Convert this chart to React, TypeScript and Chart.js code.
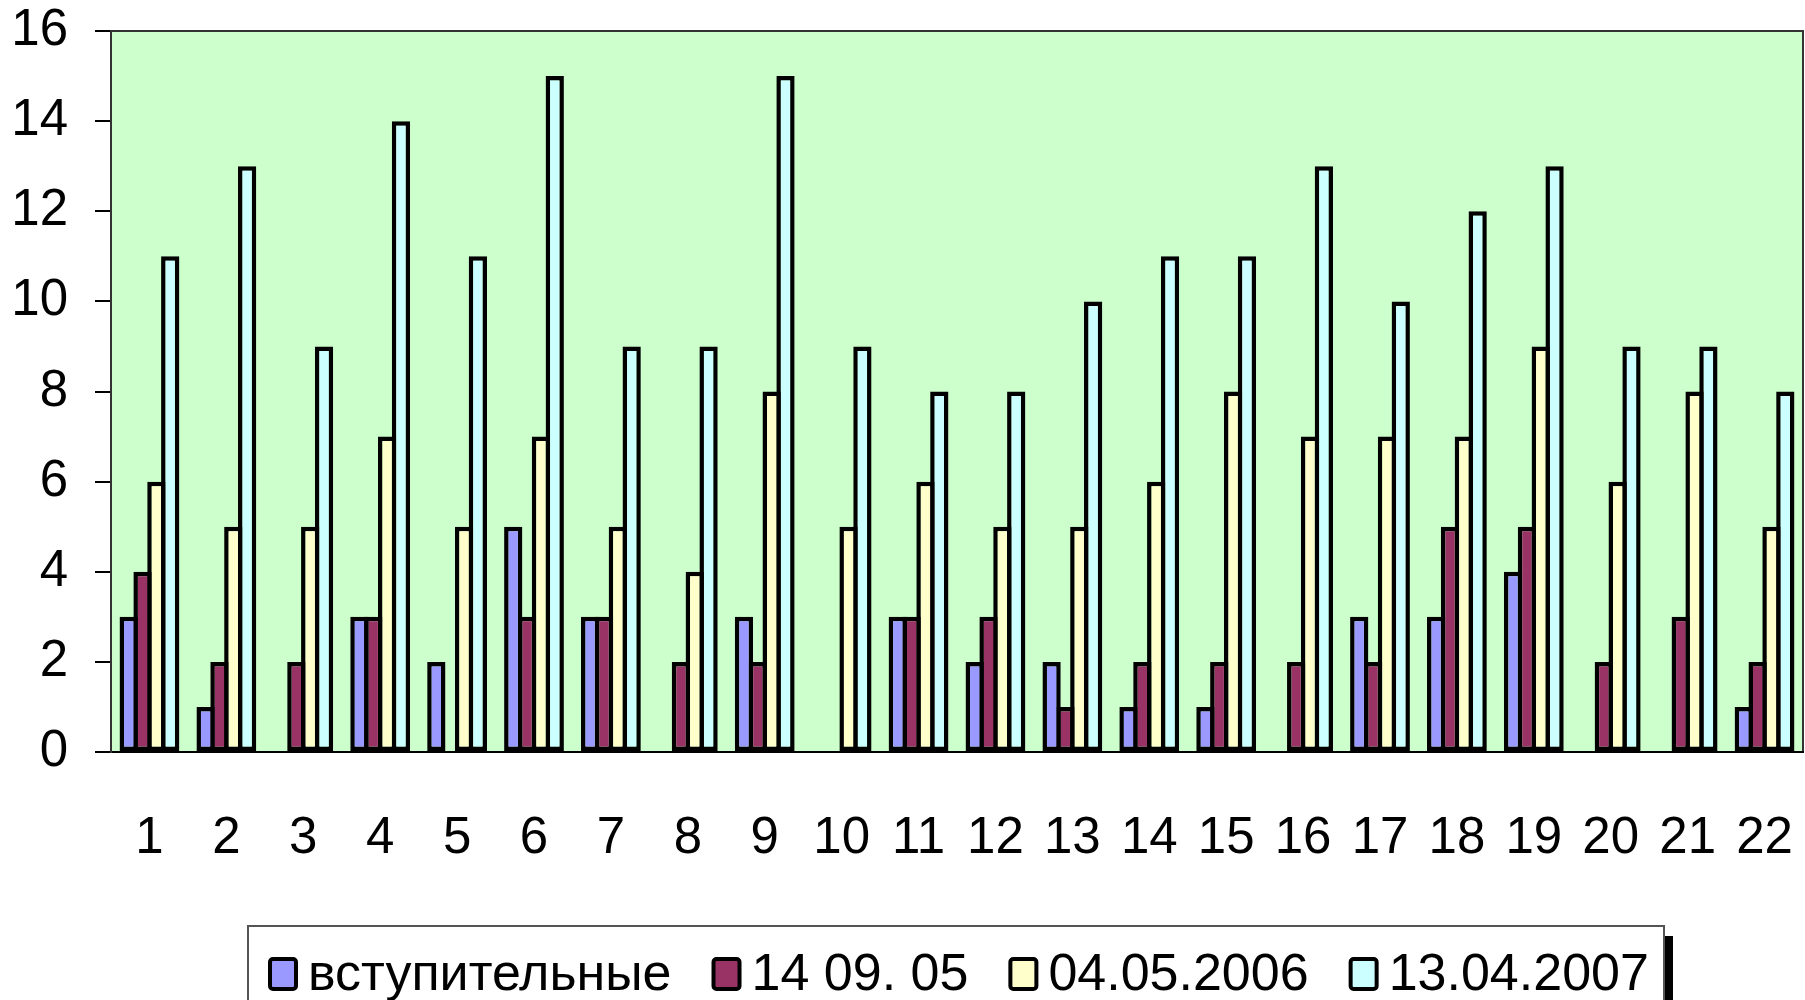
import React, { useEffect, useRef } from "react";
import { Chart, registerables } from "chart.js";

Chart.register(...registerables);

const categories = ["1","2","3","4","5","6","7","8","9","10","11","12","13","14","15","16","17","18","19","20","21","22"];
const seriesLabels = ["вступительные", "14 09. 05", "04.05.2006", "13.04.2007"];
const vstupitelnye = [3,1,0,3,2,5,3,0,3,0,3,2,2,1,1,0,3,3,4,0,0,1];
const s140905 = [4,2,2,3,0,3,3,2,2,0,3,3,1,2,2,2,2,5,5,2,3,2];
const s040506 = [6,5,5,7,5,7,5,4,8,5,6,5,5,6,8,7,7,7,9,6,8,5];
const s130407 = [11,13,9,14,11,15,9,9,15,9,8,8,10,11,11,13,10,12,13,9,9,8];
const yTicks = [0, 2, 4, 6, 8, 10, 12, 14, 16];
const colors = ["#9999FF", "#993366", "#FFFFCC", "#CCFFFF"];

const FONT = "'Liberation Sans', Arial, sans-serif";

const bgPlugin = {
  id: "bgPlugin",
  beforeDraw(chart: any) {
    const { ctx, chartArea: a } = chart;
    ctx.save();
    ctx.fillStyle = "#FFFFFF";
    ctx.fillRect(0, 0, chart.width, chart.height);
    ctx.fillStyle = "#CCFFCC";
    ctx.fillRect(a.left, a.top, a.right - a.left, a.bottom - a.top);
    ctx.strokeStyle = "#333333";
    ctx.lineWidth = 2;
    ctx.beginPath();
    ctx.moveTo(a.left, a.top);
    ctx.lineTo(a.right, a.top);
    ctx.lineTo(a.right, a.bottom);
    ctx.stroke();
    ctx.restore();
  },
};

const legendPlugin = {
  id: "customLegend",
  afterDraw(chart: any) {
    const ctx = chart.ctx;
    const boxL = 248, boxT = 926, boxR = 1664, boxB = 1030;
    ctx.save();
    ctx.fillStyle = "#000000";
    ctx.fillRect(boxR, boxT + 10, 9, boxB - boxT);
    ctx.fillStyle = "#FFFFFF";
    ctx.fillRect(boxL, boxT, boxR - boxL, boxB - boxT);
    ctx.strokeStyle = "#555555";
    ctx.lineWidth = 2;
    ctx.strokeRect(boxL, boxT, boxR - boxL, boxB - boxT);
    ctx.font = `52px ${FONT}`;
    ctx.textBaseline = "alphabetic";
    ctx.textAlign = "left";
    let x = 268;
    chart.data.datasets.forEach((ds: any) => {
      ctx.fillStyle = ds.backgroundColor;
      ctx.strokeStyle = "#000000";
      ctx.lineWidth = 4;
      ctx.beginPath();
      ctx.roundRect(x + 2, 959, 26, 30, 3);
      ctx.fill();
      ctx.stroke();
      ctx.fillStyle = "#000000";
      const tx = x + 40;
      ctx.fillText(ds.label, tx, 990);
      x = tx + ctx.measureText(ds.label).width + 40;
    });
    ctx.restore();
  },
};

const zeroPad = (s: any) => {
  s.paddingLeft = 0;
  s.paddingRight = 0;
  s.paddingTop = 0;
  s.paddingBottom = 0;
};

export default function App() {
  const ref = useRef<HTMLCanvasElement | null>(null);
  useEffect(() => {
    document.body.style.margin = "0";
    document.body.style.overflow = "hidden";
    const canvas = ref.current;
    if (!canvas) return;
    const data = [vstupitelnye, s140905, s040506, s130407];
    const chart = new Chart(canvas, {
      type: "bar",
      data: {
        labels: categories,
        datasets: data.map((d, i) => ({
          label: seriesLabels[i],
          data: d,
          backgroundColor: colors[i],
          borderColor: "#000000",
          borderWidth: 4.5,
          borderSkipped: false,
          barPercentage: 1.32,
          categoryPercentage: 0.72,
        })),
      },
      options: {
        responsive: false,
        animation: false,
        devicePixelRatio: 1,
        layout: { autoPadding: false, padding: { left: 0, top: 31, right: 2, bottom: 0 } },
        plugins: {
          legend: { display: false },
          tooltip: { enabled: false },
        },
        scales: {
          x: {
            afterFit: (s: any) => { s.height = 248; zeroPad(s); },
            grid: { display: false },
            border: { display: true, color: "#000000", width: 2 },
            ticks: {
              color: "#000000",
              font: { size: 51, family: FONT },
              padding: 48,
              maxRotation: 0,
              autoSkip: false,
            },
          },
          y: {
            min: 0,
            max: 16,
            afterFit: (s: any) => { s.width = 111; zeroPad(s); },
            afterBuildTicks: (s: any) => { s.ticks = yTicks.map((v) => ({ value: v })); },
            grid: { drawOnChartArea: false, tickLength: 16, color: "#000000", lineWidth: 2 },
            border: { display: true, color: "#333333", width: 2 },
            ticks: {
              color: "#000000",
              font: { size: 51, family: FONT },
              padding: 27,
            },
          },
        },
      },
      plugins: [bgPlugin, legendPlugin],
    });
    return () => chart.destroy();
  }, []);
  return (
    <div style={{ width: 1805, height: 1000, position: "relative" }}>
      <canvas ref={ref} width={1805} height={1000} style={{ display: "block" }} />
    </div>
  );
}
